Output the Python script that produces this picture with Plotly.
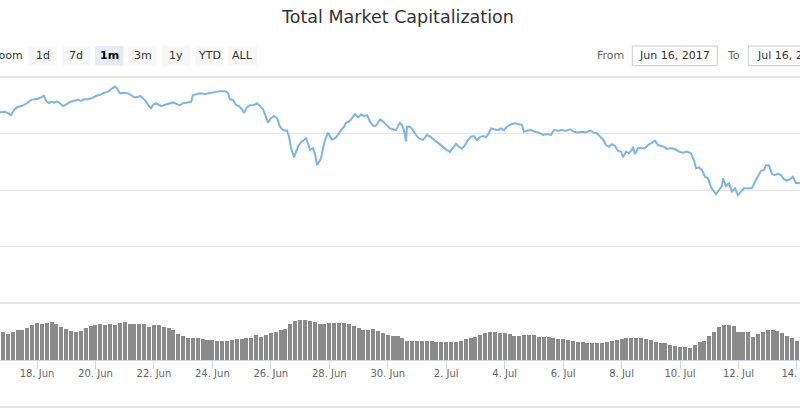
import pandas as pd
import plotly.graph_objects as go

W, H = 800, 409
FONT = "DejaVu Sans"

# ---------------- data ----------------
base_time = "2017-06-16 00:00"

# total market cap (billion USD) – hours since base_time
cap_hours = [
    17.6, 21.7, 24.2, 26.7, 29.1, 31.6, 35.7, 39.8, 43.1, 46.4, 48.8, 51.3, 53.7, 55.4, 57.9, 59.5,
    62.0, 64.4, 66.9, 69.3, 71.8, 75.1, 78.4, 81.7, 84.1, 86.6, 89.9, 93.2, 96.4, 99.7, 103.0, 106.3,
    109.6, 112.0, 113.7, 116.2, 119.4, 122.7, 125.2, 127.6, 130.1, 132.6, 135.0, 137.5, 140.0, 141.6,
    143.2, 145.7, 148.2, 150.6, 153.1, 156.4, 159.7, 162.9, 165.4, 167.9, 171.2, 174.5, 176.1, 179.4,
    181.8, 186.0, 190.1, 194.2, 198.3, 202.4, 204.8, 206.5, 208.9, 211.4, 213.9, 216.3, 218.0, 220.4,
    222.9, 226.2, 228.6, 231.1, 233.6, 236.0, 237.7, 240.1, 242.6, 245.1, 247.5, 250.0, 253.3, 254.9,
    256.6, 259.0, 260.7, 262.3, 264.8, 267.2, 268.9, 270.5, 272.2, 274.6, 276.3, 277.9, 279.6, 281.2,
    282.8, 284.5, 286.9, 288.6, 290.2, 292.7, 295.2, 297.6, 300.1, 301.7, 304.2, 306.7, 309.1, 311.6,
    314.0, 316.5, 319.0, 321.4, 323.9, 326.3, 329.6, 332.1, 335.4, 337.9, 340.3, 342.8, 345.2,
    346.0, 347.7, 349.3, 351.0, 351.8, 354.2, 356.7, 359.2, 361.6, 364.9, 368.2, 371.5, 374.8, 378.1,
    381.4, 383.8, 387.1, 389.6, 392.0, 394.5, 396.9, 399.4, 401.9, 404.3, 406.8, 409.3, 411.7, 414.2,
    416.7, 419.1, 420.8, 423.2, 426.5, 429.0, 431.4, 433.9, 437.2, 440.5, 443.8, 446.2, 447.9, 450.3,
    453.6, 456.9, 460.2, 463.5, 466.7, 470.0, 472.5, 475.8, 479.1, 482.3, 485.6, 488.9, 492.2, 495.5,
    498.8, 502.0, 505.3, 507.8, 510.3,
    512.7, 515.2, 517.6, 520.1, 522.6, 525.0, 527.5, 529.2, 531.6, 534.1, 536.5, 537.4, 539.0, 541.5,
    544.8, 547.2, 549.7, 552.1, 555.4, 557.9, 560.4, 562.8, 565.3, 568.5, 571.8, 575.1, 578.4, 581.7,
    584.9, 587.4, 589.1, 591.5, 594.0, 596.5, 598.9, 601.4, 603.0, 605.5, 608.0, 610.4, 611.3, 613.7,
    616.2, 618.6, 621.1, 623.6, 626.0, 628.5, 631.8, 635.1, 637.5, 640.0, 642.5, 644.9, 646.6, 649.0,
    651.5, 653.9, 656.4, 658.9, 661.3, 663.8, 666.3, 668.7, 671.2, 674.5,
]
cap_values = [
    107.5, 107.7, 107.2, 106.5, 108.3, 109.3, 109.8, 110.7, 111.9, 112.1, 112.3, 112.8, 113.3, 111.6, 110.7, 111.3,
    110.9, 111.4, 110.7, 109.7, 110.2, 111.2, 111.6, 111.9, 111.5, 112.1, 112.1, 112.5, 113.3, 113.7, 114.4, 114.8,
    115.9, 116.6, 115.9, 114.2, 114.4, 114.2, 113.6, 112.8, 112.8, 113.3, 112.5, 111.3, 109.7, 108.9,
    110.1, 110.7, 110.1, 109.7, 110.2, 110.7, 111.0, 110.4, 110.0, 110.7, 110.9, 111.2, 113.6, 114.0,
    114.2, 114.0, 114.4, 114.7, 115.0, 115.0, 114.4, 112.1, 111.9, 110.1, 109.7, 108.6, 107.2, 109.3,
    110.0, 110.1, 110.7, 109.7, 108.6, 105.9, 103.8, 105.4, 106.2, 105.4, 102.4, 101.2, 101.0, 98.9,
    94.8, 91.6, 93.6, 95.3, 96.9, 97.9, 98.3, 96.5, 94.2, 94.8, 92.7, 88.8, 90.0, 91.2,
    94.8, 97.7, 100.3, 98.9, 97.9, 98.3, 99.5, 101.2, 102.4, 103.8, 104.2, 105.4, 106.9, 105.7,
    106.7, 106.2, 106.5, 104.2, 102.7, 102.7, 105.0, 104.2, 103.0, 101.8, 101.5, 101.2, 103.3,
    103.8, 103.0, 101.2, 97.1, 102.4, 102.4, 101.2, 99.5, 98.3, 97.7, 99.5, 98.7, 97.5, 96.5,
    95.3, 94.4, 93.5, 94.8, 96.3, 95.3, 94.6, 95.9, 97.7, 98.9, 99.1, 97.7, 98.7, 99.1,
    98.7, 100.1, 101.8, 101.5, 101.2, 101.8, 101.2, 102.4, 103.3, 103.6, 103.4, 103.0, 100.6, 101.0,
    101.2, 100.6, 100.3, 99.5, 99.8, 99.5, 101.2, 101.0, 101.2, 100.9, 101.5, 100.6, 100.4, 100.6,
    100.4, 101.0, 100.3, 100.1, 98.9,
    97.9, 95.9, 95.3, 96.2, 95.6, 93.9, 93.6, 91.6, 93.6, 93.0, 94.2, 95.3, 92.7, 94.8,
    94.8, 94.8, 95.9, 96.7, 97.5, 95.9, 95.6, 95.3, 94.5, 94.8, 94.5, 93.6, 93.2, 93.6,
    93.0, 90.6, 87.7, 88.0, 87.1, 84.7, 84.1, 81.0, 80.0, 78.5, 80.0, 81.4, 84.1, 81.4,
    82.4, 79.4, 80.6, 78.2, 79.4, 80.6, 80.6, 80.6, 82.9, 84.7, 86.8, 87.1, 88.8, 88.8,
    85.6, 85.3, 85.7, 85.3, 83.8, 83.3, 83.8, 84.7, 82.4, 82.6,
]

# 24h volume (billion USD), one bar every 4 hours starting at vol_start
vol_start = "2017-06-16 20:00"
vol_step = "4h"
vol_values = [
    4.16, 3.86, 4.20, 4.50, 4.50, 4.80, 5.30, 5.55, 5.33, 5.55, 5.70, 5.37, 4.88, 4.62, 4.35, 4.20,
    4.28, 4.73, 5.03, 5.25, 5.40, 5.28, 5.36, 5.18, 5.48, 5.63, 5.36, 5.36, 5.36, 5.36, 5.00, 5.18,
    5.21, 4.95, 4.76, 4.47, 3.90, 3.53, 3.35, 3.35, 3.30, 3.15, 3.03, 2.93, 2.85, 2.78, 2.85, 3.00,
    3.11, 3.18, 3.27, 3.33, 3.72, 3.50, 3.75, 4.10, 4.20, 4.43, 4.65, 5.36, 5.85, 6.00, 6.00, 5.78,
    5.63, 5.45, 5.40, 5.51, 5.51, 5.55, 5.55, 5.33, 5.10, 4.73, 4.50, 4.50, 4.58, 4.28, 3.98, 3.71,
    3.60, 3.56, 3.30, 2.90, 2.85, 2.85, 2.85, 2.85, 2.87, 2.76, 2.75, 2.73, 2.67, 2.70, 2.85, 3.12,
    3.30, 3.38, 3.68, 4.01, 4.20, 4.22, 4.08, 4.01, 3.86, 3.65, 3.57, 3.72, 3.80, 3.75, 3.50, 3.50,
    3.42, 3.32, 3.20, 3.14, 3.02, 2.88, 2.75, 2.66, 2.58, 2.51, 2.51, 2.58, 2.75, 2.85, 2.96, 3.08,
    3.33, 3.30, 3.26, 3.23, 3.11, 2.96, 2.66, 2.58, 2.51, 2.22, 2.10, 1.91, 1.88, 1.85, 2.21, 2.63,
    2.85, 3.65, 4.13, 4.88, 5.25, 5.18, 5.06, 4.23, 4.17, 4.16, 3.45, 3.86, 4.25, 4.50, 4.50, 4.28,
    4.02, 3.57, 3.30, 2.85, 2.75,
]

tick_start = "2017-06-18"
view_start_hours, view_end_hours = 17.62, 674.5
title_text = "Total Market Capitalization"
zoom_buttons = ["1d", "7d", "1m", "3m", "1y", "YTD", "ALL"]
selected_button = "1m"
from_text, to_text = "Jun 16, 2017", "Jul 16, 2017"

# ---------------- build ----------------
t0 = pd.Timestamp(base_time)
cap_times = [t0 + pd.Timedelta(hours=h) for h in cap_hours]
vol_times = pd.date_range(vol_start, periods=len(vol_values), freq=vol_step)


def X(px):
    return px / W


def Y(py):
    return 1 - py / H


fig = go.Figure()
fig.add_trace(go.Bar(
    x=vol_times, y=vol_values, xaxis="x", yaxis="y2",
    marker=dict(color="#8a8a8a", line=dict(width=0)),
    width=3.3 * 3600 * 1000, hoverinfo="skip",
))
fig.add_trace(go.Scatter(
    x=cap_times, y=cap_values, xaxis="x", yaxis="y", mode="lines",
    line=dict(color="#7cb5ec", width=2), hoverinfo="skip",
))

shapes = []
annotations = []

# pane border lines
for py, col, wd in [(77, "#e6e6e6", 2), (303, "#e6e6e6", 2), (407, "#dddddd", 1.5)]:
    shapes.append(dict(type="line", xref="paper", yref="paper", x0=0, x1=1,
                       y0=Y(py), y1=Y(py), line=dict(color=col, width=wd), layer="below"))

# title
annotations.append(dict(text=title_text, xref="paper", yref="paper", x=X(397), y=Y(17),
                        xanchor="center", yanchor="middle", showarrow=False,
                        font=dict(family=FONT, size=17.5, color="#333333")))

# zoom label + buttons
annotations.append(dict(text="Zoom", xref="paper", yref="paper", x=X(25), y=Y(56),
                        xanchor="right", yanchor="middle", showarrow=False,
                        font=dict(family=FONT, size=11, color="#333333")))
btn_left = [28.3, 62, 95, 128.3, 161.7, 195, 228.3]
for lbl, bx in zip(zoom_buttons, btn_left):
    sel = lbl == selected_button
    shapes.append(dict(type="rect", xref="paper", yref="paper", x0=X(bx), x1=X(bx + 28.5),
                       y0=Y(65.7), y1=Y(46), fillcolor="#e6ebf5" if sel else "#f7f7f7",
                       line=dict(width=0), layer="below"))
    annotations.append(dict(text=f"<b>{lbl}</b>" if sel else lbl, xref="paper", yref="paper",
                            x=X(bx + 14.25), y=Y(56), xanchor="center", yanchor="middle",
                            showarrow=False,
                            font=dict(family=FONT, size=11, color="#000000" if sel else "#333333")))

# from / to inputs
annotations.append(dict(text="From", xref="paper", yref="paper", x=X(626), y=Y(56),
                        xanchor="right", yanchor="middle", showarrow=False,
                        font=dict(family=FONT, size=11, color="#666666")))
annotations.append(dict(text="To", xref="paper", yref="paper", x=X(742), y=Y(56),
                        xanchor="right", yanchor="middle", showarrow=False,
                        font=dict(family=FONT, size=11, color="#666666")))
for bx, txt in [(632.3, from_text), (748.3, to_text)]:
    shapes.append(dict(type="rect", xref="paper", yref="paper", x0=X(bx), x1=X(bx + 85),
                       y0=Y(65.7), y1=Y(46), fillcolor="#ffffff",
                       line=dict(color="#cccccc", width=1), layer="below"))
    annotations.append(dict(text=txt, xref="paper", yref="paper", x=X(bx + 42.5), y=Y(56),
                            xanchor="center", yanchor="middle", showarrow=False,
                            font=dict(family=FONT, size=11, color="#333333")))

view_range = [t0 + pd.Timedelta(hours=view_start_hours), t0 + pd.Timedelta(hours=view_end_hours)]

fig.update_layout(
    width=W, height=H, autosize=False,
    margin=dict(l=0, r=0, t=0, b=0),
    paper_bgcolor="#ffffff", plot_bgcolor="rgba(0,0,0,0)",
    showlegend=False, bargap=0,
    font=dict(family=FONT),
    xaxis=dict(
        anchor="y2", range=view_range, type="date",
        showgrid=False, zeroline=False,
        showline=True, linecolor="#ccd6eb", linewidth=1,
        ticks="outside", tickcolor="#ccd6eb", ticklen=8, tickwidth=1,
        tick0=tick_start, dtick=2 * 86400000, tickformat="%-d. %b",
        tickfont=dict(family=FONT, size=10, color="#666666"),
        ticklabeloverflow="allow", ticklabelstandoff=-4,
        automargin=False,
    ),
    yaxis=dict(
        domain=[Y(303), Y(77)], range=[40, 120], dtick=20, tick0=40,
        showgrid=True, gridcolor="#e6e6e6", gridwidth=1,
        showticklabels=False, zeroline=False, showline=False, ticks="",
    ),
    yaxis2=dict(
        domain=[Y(360), Y(303)], range=[0, 8.55],
        showgrid=False, showticklabels=False, zeroline=False, showline=False, ticks="",
    ),
    shapes=shapes, annotations=annotations,
)

fig.write_html(
    "out.html",
    config=dict(displayModeBar=False, staticPlot=True),
    post_script="document.body.style.margin='0';document.body.style.overflow='hidden';",
)
